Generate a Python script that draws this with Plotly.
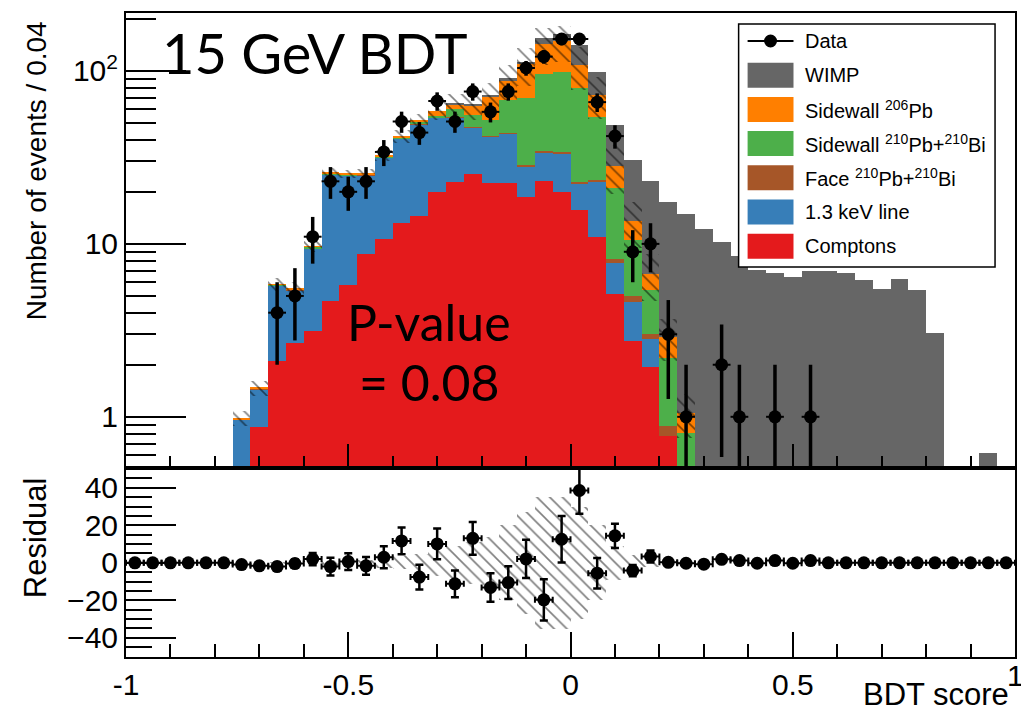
import numpy as np
import plotly.graph_objects as go

# ---------------- data ----------------
bin_width = 0.04
bin_centers = [-0.98, -0.94, -0.90, -0.86, -0.82, -0.78, -0.74, -0.70, -0.66, -0.62,
               -0.58, -0.54, -0.50, -0.46, -0.42, -0.38, -0.34, -0.30, -0.26, -0.22,
               -0.18, -0.14, -0.10, -0.06, -0.02, 0.02, 0.06, 0.10, 0.14, 0.18,
               0.22, 0.26, 0.30, 0.34, 0.38, 0.42, 0.46, 0.50, 0.54, 0.58,
               0.62, 0.66, 0.70, 0.74, 0.78, 0.82, 0.86, 0.90, 0.94, 0.98]

comptons = [0, 0, 0, 0, 0, 0, 0.4, 0.87, 2.1, 2.67,
            3.13, 4.7, 5.8, 8.7, 10.6, 13.2, 14.4, 19.9, 22.9, 25.4,
            22.4, 22.5, 18.6, 23.0, 19.9, 15.6, 10.9, 5.15, 2.73, 1.94,
            0.77, 0.2, 0, 0, 0, 0, 0, 0, 0, 0,
            0, 0, 0, 0, 0, 0, 0, 0, 0, 0]
line_13kev = [0, 0, 0, 0, 0, 0, 0.56, 0.57, 3.65, 2.73,
              6.27, 20.5, 19.0, 16.3, 21.0, 27.2, 34.9, 33.7, 30.9, 21.4,
              19.2, 20.7, 9.3, 10.8, 13.5, 6.6, 12.0, 2.55, 1.87, 0.86,
              0, 0.05, 0, 0, 0, 0, 0, 0, 0, 0,
              0, 0, 0, 0, 0, 0, 0, 0, 0, 0]
face_210 = [0, 0, 0, 0, 0, 0, 0.005, 0.01, 0.02, 0.03,
            0.05, 0.1, 0.1, 0.1, 0.1, 0.2, 0.2, 0.2, 0.2, 0.7,
            0.6, 0.6, 0.8, 0.7, 0.6, 0.6, 0.6, 0.5, 0.37, 0.2,
            0.11, 0.05, 0, 0, 0, 0, 0, 0, 0, 0,
            0, 0, 0, 0, 0, 0, 0, 0, 0, 0]
sidewall_210 = [0, 0, 0, 0, 0, 0, 0.005, 0.01, 0.03, 0.03,
                0.15, 0.2, 0.2, 0.2, 0.3, 0.4, 1.0, 1.2, 6.0, 8.2,
                9.8, 24.0, 41.0, 61.2, 65.0, 57.2, 30.3, 12.8, 5.53, 2.4,
                1.31, 0.51, 0, 0, 0, 0, 0, 0, 0, 0,
                0, 0, 0, 0, 0, 0, 0, 0, 0, 0]
sidewall_206 = [0, 0, 0, 0, 0, 0, 0.01, 0.01, 0.05, 0.04,
                0.1, 0.3, 0.3, 0.3, 0.5, 1.0, 1.5, 3.9, 4.3, 7.3,
                18.6, 19.8, 39.3, 47.3, 49.0, 28.0, 19.0, 7.3, 3.0, 1.3,
                0.71, 0.24, 0, 0, 0, 0, 0, 0, 0, 0,
                0, 0, 0, 0, 0, 0, 0, 0, 0, 0]
wimp = [0, 0, 0, 0, 0, 0, 0, 0, 0, 0,
        0, 0, 0, 0, 0, 0, 0, 0, 0.2, 1.0,
        2.2, 3.2, 3.0, 13.0, 16.0, 33.0, 26.2, 20.4, 17.1, 16.3,
        14.5, 13.75, 12.2, 10.2, 8.5, 7.1, 6.8, 6.4, 7.0, 7.0,
        6.8, 6.2, 5.45, 6.3, 5.4, 3.07, 0, 0.52, 0.62, 0]
data_counts = [0, 0, 0, 0, 0, 0, 0, 0, 4, 5,
               11, 23, 20, 23, 34, 51, 44, 67, 51, 76,
               58, 76, 104, 121, 153, 153, 66, 42, 9, 10,
               3, 1, 0, 2, 1, 0, 1, 0, 1, 0,
               0, 0, 0, 0, 0, 0, 0, 0, 0, 0]
# background-model uncertainty (half width of hatched band)
bkg_sigma = [0, 0, 0, 0, 0, 0, 0.1, 0.15, 0.5, 0.5,
             0.7, 1.5, 1.5, 1.5, 2.5, 3.5, 4.5, 7, 9, 11,
             14, 20, 27, 35, 35, 30, 20, 9, 4, 2,
             0.8, 0.3, 0, 0, 0, 0, 0, 0, 0, 0,
             0, 0, 0, 0, 0, 0, 0, 0, 0, 0]
residual = [0, 0, 0, 0, 0, 0, -0.9, -1.6, -2.0, -0.4,
            2.0, -2.0, 0.7, -1.6, 3.0, 11.7, -7.6, 10.1, -11.2, 13.1,
            -13.1, -10.5, 2.1, -19.7, 12.6, 38.6, -5.5, 14.4, -4.1, 3.4,
            0.3, -0.2, -0.7, 1.9, 1.2, -0.2, 1.2, -0.2, 1.2, 0,
            0, 0, 0, 0, 0, 0, 0, 0, 0, 0]

x_tick_vals = [-1, -0.5, 0, 0.5]
x_tick_text = ["-1", "-0.5", "0", "0.5"]

series_names = ["Comptons", "1.3 keV line", "Face <sup>210</sup>Pb+<sup>210</sup>Bi",
                "Sidewall <sup>210</sup>Pb+<sup>210</sup>Bi", "Sidewall <sup>206</sup>Pb", "WIMP"]
series_colors = ["#e41a1c", "#377eb8", "#a65628", "#4daf4a", "#ff7f00", "#666666"]
series_values = [comptons, line_13kev, face_210, sidewall_210, sidewall_206, wimp]

# ---------------- figure ----------------
W, H = 1021, 713
L, R, T, B = 126, 4, 13, 56
split = 0.2935

x = np.array(bin_centers)
fig = go.Figure()

for name, col, vals in zip(series_names, series_colors, series_values):
    fig.add_trace(go.Bar(x=x, y=vals, width=bin_width, name=name,
                         marker=dict(color=col, line=dict(width=0)),
                         xaxis="x", yaxis="y", showlegend=False))

bkg_total = np.sum(np.array(series_values[:5]), axis=0)
sig = np.array(bkg_sigma)
band_lo = np.maximum(bkg_total - sig, 1e-3)
band_hi = bkg_total + sig
hatch = dict(color="rgba(0,0,0,0)", line=dict(width=0),
             pattern=dict(shape="\\", fgcolor="black", bgcolor="rgba(0,0,0,0)",
                          size=9, solidity=0.18, fillmode="overlay"))
fig.add_trace(go.Bar(x=x, y=band_hi - band_lo, base=band_lo, width=bin_width,
                     marker=hatch, xaxis="x", yaxis="y", showlegend=False))
fig.add_trace(go.Bar(x=x, y=2 * sig, base=-sig, width=bin_width,
                     marker=hatch, xaxis="x2", yaxis="y2", showlegend=False))

d = np.array(data_counts, dtype=float)
mask = d > 0
fig.add_trace(go.Scatter(
    x=x[mask], y=d[mask], mode="markers",
    marker=dict(size=13, color="black"),
    error_y=dict(type="data", array=np.sqrt(d[mask]), thickness=3.5, width=0, color="black"),
    error_x=dict(type="constant", value=bin_width / 2, thickness=2, width=0, color="black"),
    xaxis="x", yaxis="y", showlegend=False))

fig.add_trace(go.Scatter(
    x=x, y=residual, mode="markers",
    marker=dict(size=13, color="black"),
    error_y=dict(type="data", array=np.sqrt(d), thickness=2.5, width=4, color="black"),
    error_x=dict(type="constant", value=bin_width / 2, thickness=2, width=3, color="black"),
    xaxis="x2", yaxis="y2", showlegend=False))

font_family = "Liberation Sans, Arial, sans-serif"
axis_common = dict(showline=True, linecolor="black", linewidth=2, mirror=True,
                   ticks="inside", tickcolor="black", tickwidth=2,
                   showgrid=False, zeroline=False,
                   tickfont=dict(family=font_family, size=30, color="black"))

minor_log = [0.6, 0.7, 0.8, 0.9, 2, 3, 4, 5, 6, 7, 8, 9,
             20, 30, 40, 50, 60, 70, 80, 90, 200]
minor_x = [-0.9, -0.8, -0.7, -0.6, -0.4, -0.3, -0.2, -0.1,
           0.1, 0.2, 0.3, 0.4, 0.6, 0.7, 0.8, 0.9]

fig.update_layout(
    width=W, height=H,
    margin=dict(l=L, r=R, t=T, b=B, pad=0),
    paper_bgcolor="white", plot_bgcolor="white",
    barmode="stack", bargap=0,
    xaxis=dict(domain=[0, 1], range=[-1, 1], anchor="y", showticklabels=False,
               tickmode="array", tickvals=[-1, -0.5, 0, 0.5, 1], ticklen=24,
               minor=dict(tickmode="array", tickvals=minor_x,
                          ticks="inside", ticklen=12, tickwidth=1.5, tickcolor="black"),
               **axis_common),
    xaxis2=dict(domain=[0, 1], range=[-1, 1], anchor="y2",
                tickmode="array", tickvals=[-1, -0.5, 0, 0.5, 1],
                ticktext=["-1", "-0.5", "0", "0.5", "1"], ticklen=25,
                minor=dict(tickmode="array", tickvals=minor_x,
                           ticks="inside", ticklen=13, tickwidth=1.5, tickcolor="black"),
                **axis_common),
    yaxis=dict(domain=[split, 1], type="log", range=[-0.296, 2.335], anchor="x",
               tickmode="array", tickvals=[1, 10, 100], ticktext=["1", "10", "10<sup>2</sup>"],
               ticklen=60,
               minor=dict(tickmode="array", tickvals=minor_log, ticks="inside",
                          ticklen=30, tickwidth=1.5, tickcolor="black"),
               **axis_common),
    yaxis2=dict(domain=[0, split], range=[-50.2, 50.6], anchor="x2",
                tickmode="array", tickvals=[-40, -20, 0, 20, 40], ticklen=50,
                minor=dict(tickmode="array",
                           tickvals=[-45, -35, -30, -25, -15, -10, -5, 5, 10, 15, 25, 30, 35, 45],
                           ticks="inside", ticklen=26, tickwidth=1.5, tickcolor="black"),
                **axis_common),
)


def px(xp):
    return (xp - L) / (W - L - R)


def py(yp):
    return (H - B - yp) / (H - T - B)


annotations = [
    dict(text="15 GeV BDT", x=px(160), y=py(52), xanchor="left", yanchor="middle",
         font=dict(family="Lato, sans-serif", size=56, color="black")),
    dict(text="P-value", x=px(430), y=py(322), xanchor="center", yanchor="middle",
         font=dict(family="Lato, sans-serif", size=50, color="black")),
    dict(text="= 0.08", x=px(430), y=py(382), xanchor="center", yanchor="middle",
         font=dict(family="Lato, sans-serif", size=50, color="black")),
    dict(text="Number of events / 0.04", x=px(37), y=py(171), textangle=-90,
         xanchor="center", yanchor="middle",
         font=dict(family=font_family, size=28, color="black")),
    dict(text="Residual", x=px(35), y=py(538), textangle=-90,
         xanchor="center", yanchor="middle",
         font=dict(family=font_family, size=31, color="black")),
    dict(text="BDT score", x=px(1013), y=py(694), xanchor="right", yanchor="middle",
         font=dict(family=font_family, size=31, color="black")),
    # x = 1 tick label sits on the page edge (partly cut off, as in the reference)
    dict(text="1", x=1.0, y=py(675), xanchor="center", yanchor="middle",
         font=dict(family=font_family, size=30, color="black")),
]

shapes = []
# legend box
lx0, ly0, lx1, ly1 = 740, 24, 997, 267
shapes.append(dict(type="rect", xref="paper", yref="paper", x0=px(lx0), x1=px(lx1),
                   y0=py(ly1), y1=py(ly0), line=dict(color="black", width=1.5),
                   fillcolor="white", layer="above"))
legend_labels = ["Data", "WIMP", "Sidewall <sup>206</sup>Pb",
                 "Sidewall <sup>210</sup>Pb+<sup>210</sup>Bi",
                 "Face <sup>210</sup>Pb+<sup>210</sup>Bi", "1.3 keV line", "Comptons"]
legend_colors = [None, "#666666", "#ff7f00", "#4daf4a", "#a65628", "#377eb8", "#e41a1c"]
for k, (lab, col) in enumerate(zip(legend_labels, legend_colors)):
    yc = 41 + 34.2 * k
    if col is None:
        shapes.append(dict(type="line", xref="paper", yref="paper", x0=px(749), x1=px(795),
                           y0=py(yc), y1=py(yc), line=dict(color="black", width=2), layer="above"))
        shapes.append(dict(type="circle", xref="paper", yref="paper", x0=px(765.5), x1=px(778.5),
                           y0=py(yc + 6.5), y1=py(yc - 6.5), fillcolor="black",
                           line=dict(color="black", width=0), layer="above"))
    else:
        shapes.append(dict(type="rect", xref="paper", yref="paper", x0=px(749), x1=px(795),
                           y0=py(yc + 12.5), y1=py(yc - 12.5), fillcolor=col,
                           line=dict(color=col, width=0), layer="above"))
    annotations.append(dict(text=lab, x=px(805), y=py(yc), xanchor="left", yanchor="middle",
                            font=dict(family=font_family, size=20, color="black")))

for a in annotations:
    a.update(xref="paper", yref="paper", showarrow=False)

fig.update_layout(annotations=annotations, shapes=shapes)

fig.write_html("out.html")
